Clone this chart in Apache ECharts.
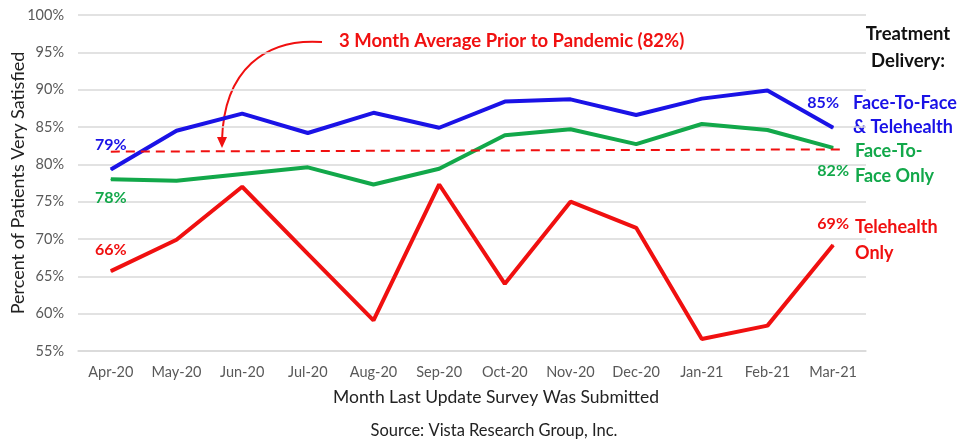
<!DOCTYPE html>
<html>
<head>
<meta charset="utf-8">
<script src="https://cdn.jsdelivr.net/npm/echarts@6/dist/echarts.min.js"></script>
<style>
  html, body { margin: 0; padding: 0; background: #fff; }
  #chart { width: 961px; height: 443px; }
</style>
</head>
<body>
<div id="chart"></div>
<script>
const months = ['Apr-20', 'May-20', 'Jun-20', 'Jul-20', 'Aug-20', 'Sep-20', 'Oct-20', 'Nov-20', 'Dec-20', 'Jan-21', 'Feb-21', 'Mar-21']
const bothValues = [79.3, 84.5, 86.8, 84.2, 86.9, 84.9, 88.4, 88.7, 86.6, 88.8, 89.9, 84.9]
const faceValues = [78.0, 77.8, 78.7, 79.6, 77.3, 79.4, 83.9, 84.7, 82.7, 85.4, 84.6, 82.2]
const teleValues = [65.7, 69.9, 77.0, 68.0, 59.1, 77.3, 64.0, 75.0, 71.5, 56.6, 58.4, 69.2]
const priorAvg = [81.7, 82.0]
const yTicks = [55, 60, 65, 70, 75, 80, 85, 90, 95, 100]

const FONT = 'Lato'
const BLUE = '#1a12e6'
const GREEN = '#12a84a'
const RED = '#f01010'

// label shown only on first and last point
function withEndLabels(values, color, firstPos, lastPos) {
  return values.map(function(v, i) {
    if (i === 0 || i === values.length - 1) {
      const p = i === 0 ? firstPos : lastPos
      return {
        value: v,
        label: {
          show: true,
          position: p.position,
          offset: p.offset,
          distance: p.distance,
          color: color,
          fontFamily: FONT,
          fontWeight: 'bold',
          fontSize: 16,
          formatter: function(d) { return Math.round(d.value) + '%' }
        }
      }
    }
    return v
  })
}

const chart = echarts.init(document.getElementById('chart'))
chart.setOption({
  backgroundColor: '#fff',
  animation: false,
  grid: {
    left: 78,
    right: 95,
    top: 15,
    bottom: 92,
    outerBoundsMode: 'none'
  },
  xAxis: {
    type: 'category',
    data: months,
    boundaryGap: true,
    axisLine: { lineStyle: { color: '#d9d9d9', width: 1.5 } },
    axisTick: { show: false },
    axisLabel: { color: '#595959', fontFamily: FONT, fontSize: 14.5, margin: 14, interval: 0 }
  },
  yAxis: {
    type: 'value',
    min: yTicks[0],
    max: yTicks[yTicks.length - 1],
    interval: 5,
    name: 'Percent of Patients Very Satisfied',
    nameLocation: 'middle',
    nameGap: 51,
    nameMoveOverlap: false,
    nameTextStyle: { color: '#222', fontFamily: FONT, fontSize: 18 },
    axisLine: { show: false },
    axisTick: { show: false },
    axisLabel: { color: '#595959', fontFamily: FONT, fontSize: 14.5, margin: 14, formatter: '{value}%' },
    splitLine: { lineStyle: { color: '#d9d9d9', width: 1.5 } }
  },
  series: [
    {
      name: 'Face-To-Face & Telehealth',
      type: 'line',
      data: withEndLabels(bothValues, BLUE,
        { position: 'top', offset: [0, 0], distance: 16 },
        { position: 'top', offset: [-10, 0], distance: 16 }),
      symbol: 'circle',
      symbolSize: 1,
      itemStyle: { color: BLUE },
      lineStyle: { color: BLUE, width: 4 },
      z: 4
    },
    {
      name: 'Face-To-Face Only',
      type: 'line',
      data: withEndLabels(faceValues, GREEN,
        { position: 'bottom', offset: [0, 0], distance: 10 },
        { position: 'bottom', offset: [0, 0], distance: 14 }),
      symbol: 'circle',
      symbolSize: 1,
      itemStyle: { color: GREEN },
      lineStyle: { color: GREEN, width: 4 },
      z: 3
    },
    {
      name: 'Telehealth Only',
      type: 'line',
      data: withEndLabels(teleValues, RED,
        { position: 'top', offset: [0, 0], distance: 13 },
        { position: 'top', offset: [0, 0], distance: 13 }),
      symbol: 'circle',
      symbolSize: 1,
      itemStyle: { color: RED },
      lineStyle: { color: RED, width: 4 },
      z: 3,
      markLine: {
        silent: true,
        symbol: 'none',
        lineStyle: { color: RED, type: [9, 6], width: 2 },
        label: { show: false },
        data: [[
          { coord: [0, priorAvg[0]] },
          { coord: [11, priorAvg[1]], x: 842 }
        ]]
      }
    }
  ],
  graphic: [
    {
      type: 'text',
      left: 339, top: 32,
      style: { text: '3 Month Average Prior to Pandemic (82%)', fill: RED, font: 'bold 18.5px ' + FONT }
    },
    {
      type: 'bezierCurve',
      shape: { x1: 322, y1: 42, cpx1: 265, cpx2: 224, cpy1: 38, cpy2: 70, x2: 222, y2: 140 },
      style: { stroke: RED, lineWidth: 2, fill: null }
    },
    {
      type: 'polygon',
      shape: { points: [[217, 137], [227, 137], [222, 148]] },
      style: { fill: RED }
    },
    {
      type: 'text',
      x: 908, y: 34,
      style: { text: 'Treatment', fill: '#111', font: 'bold 18.5px ' + FONT, align: 'center', verticalAlign: 'middle' }
    },
    {
      type: 'text',
      x: 908, y: 61,
      style: { text: 'Delivery:', fill: '#111', font: 'bold 18.5px ' + FONT, align: 'center', verticalAlign: 'middle' }
    },
    {
      type: 'text',
      x: 853, y: 103,
      style: { text: 'Face-To-Face', fill: BLUE, font: 'bold 18px ' + FONT, verticalAlign: 'middle' }
    },
    {
      type: 'text',
      x: 853, y: 127,
      style: { text: '& Telehealth', fill: BLUE, font: 'bold 18px ' + FONT, verticalAlign: 'middle' }
    },
    {
      type: 'text',
      x: 855, y: 151,
      style: { text: 'Face-To-', fill: GREEN, font: 'bold 18px ' + FONT, verticalAlign: 'middle' }
    },
    {
      type: 'text',
      x: 855, y: 176,
      style: { text: 'Face Only', fill: GREEN, font: 'bold 18px ' + FONT, verticalAlign: 'middle' }
    },
    {
      type: 'text',
      x: 855, y: 227,
      style: { text: 'Telehealth', fill: RED, font: 'bold 18px ' + FONT, verticalAlign: 'middle' }
    },
    {
      type: 'text',
      x: 855, y: 253,
      style: { text: 'Only', fill: RED, font: 'bold 18px ' + FONT, verticalAlign: 'middle' }
    },
    {
      type: 'text',
      x: 496, y: 397,
      style: { text: 'Month Last Update Survey Was Submitted', fill: '#222', font: '17.5px ' + FONT, align: 'center', verticalAlign: 'middle' }
    },
    {
      type: 'text',
      x: 494, y: 431,
      style: { text: 'Source: Vista Research Group, Inc.', fill: '#222', font: '16.5px ' + FONT, align: 'center', verticalAlign: 'middle' }
    }
  ]
})
</script>
</body>
</html>
